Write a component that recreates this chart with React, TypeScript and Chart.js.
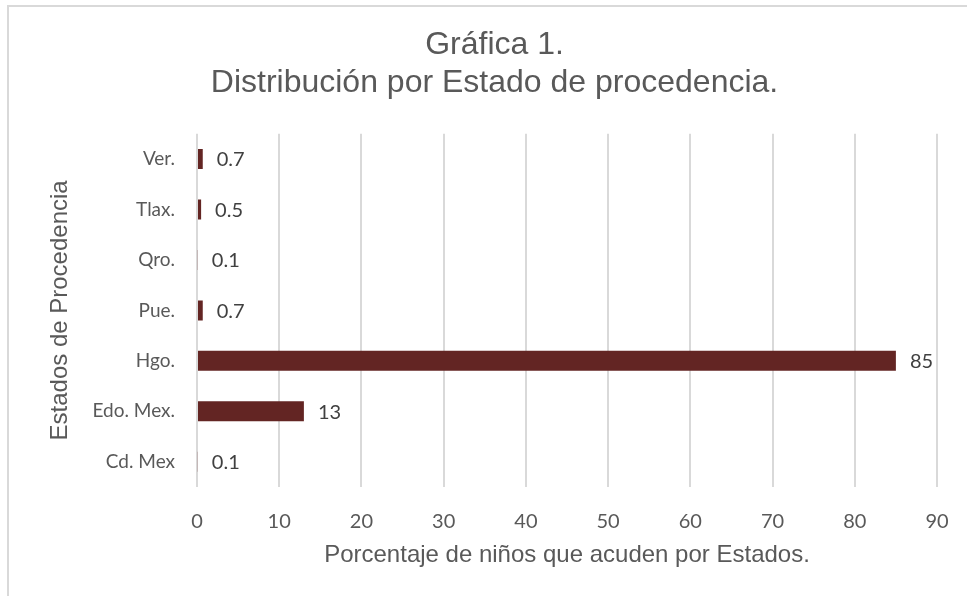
import React, { useEffect, useRef } from "react";
import { Chart, registerables } from "chart.js";

Chart.register(...registerables);

const categories = ["Ver.", "Tlax.", "Qro.", "Pue.", "Hgo.", "Edo. Mex.", "Cd. Mex"];
const values = [0.7, 0.5, 0.1, 0.7, 85, 13, 0.1];
const valueLabels = ["0.7", "0.5", "0.1", "0.7", "85", "13", "0.1"];
const titleLines = ["Gráfica 1.", "Distribución por Estado de procedencia."];
const xAxisTitle = "Porcentaje de niños que acuden por Estados.";
const yAxisTitle = "Estados de Procedencia";

const BAR_COLOR = "#632523";
const TEXT_COLOR = "#595959";
const GRID_COLOR = "#d9d9d9";
const TICK_FONT = "Lato, 'Open Sans', sans-serif";
const TITLE_FONT = "'Liberation Sans', Arial, sans-serif";

const valueLabelPlugin = {
  id: "valueLabels",
  afterDatasetsDraw(chart: any) {
    const ctx = chart.ctx;
    const meta = chart.getDatasetMeta(0);
    ctx.save();
    ctx.font = `20px ${TICK_FONT}`;
    ctx.fillStyle = "#404040";
    ctx.textAlign = "left";
    ctx.textBaseline = "middle";
    meta.data.forEach((bar: any, i: number) => {
      ctx.fillText(valueLabels[i], bar.x + 14, bar.y + 1);
    });
    ctx.restore();
  },
};

export default function App() {
  const canvasRef = useRef<HTMLCanvasElement | null>(null);

  useEffect(() => {
    if (!canvasRef.current) return;
    const chart = new Chart(canvasRef.current, {
      type: "bar",
      data: {
        labels: categories,
        datasets: [
          {
            data: values,
            backgroundColor: BAR_COLOR,
            borderWidth: 0,
            barPercentage: 0.8,
            categoryPercentage: 0.495,
          },
        ],
      },
      options: {
        indexAxis: "y",
        responsive: false,
        animation: false,
        devicePixelRatio: 1,
        layout: { padding: { left: 52, right: 30, top: 0, bottom: 0 } },
        plugins: {
          legend: { display: false },
          tooltip: { enabled: false },
          title: {
            display: true,
            text: titleLines,
            color: TEXT_COLOR,
            font: { family: TITLE_FONT, size: 32, weight: "normal", lineHeight: 1.2 },
            padding: { top: 26, bottom: 31 },
          },
        },
        scales: {
          x: {
            min: 0,
            max: 90,
            ticks: {
              stepSize: 10,
              color: TEXT_COLOR,
              font: { family: TICK_FONT, size: 20 },
              padding: 23,
            },
            grid: { color: GRID_COLOR, lineWidth: 2, drawTicks: false },
            border: { display: false },
            title: {
              display: true,
              text: xAxisTitle,
              color: TEXT_COLOR,
              font: { family: TITLE_FONT, size: 24, lineHeight: 1.2 },
              padding: { top: 0, bottom: 26 },
            },
            afterFit(scale: any) {
              scale.height = 109;
              scale.paddingLeft = 0;
              scale.paddingRight = 0;
            },
          },
          y: {
            ticks: {
              color: TEXT_COLOR,
              font: { family: TICK_FONT, size: 19 },
              padding: 22,
            },
            grid: { display: false, drawTicks: false },
            border: { display: false },
            title: {
              display: true,
              text: yAxisTitle,
              color: TEXT_COLOR,
              font: { family: TITLE_FONT, size: 24, lineHeight: 1.2 },
              padding: { top: -6, bottom: 0 },
            },
            afterFit(scale: any) {
              scale.width = 145;
              scale.paddingTop = 0;
              scale.paddingBottom = 0;
            },
          },
        },
      },
      plugins: [valueLabelPlugin],
    });
    return () => chart.destroy();
  }, []);

  return (
    <div style={{ position: "absolute", left: 0, top: 0, width: 967, height: 596, overflow: "hidden", background: "#fff" }}>
      <div
        style={{
          position: "absolute",
          left: 7,
          top: 5,
          width: 1000,
          height: 700,
          border: "2px solid #d9d9d9",
          boxSizing: "border-box",
        }}
      />
      <canvas ref={canvasRef} width={967} height={596} style={{ position: "absolute", left: 0, top: 0 }} />
    </div>
  );
}
